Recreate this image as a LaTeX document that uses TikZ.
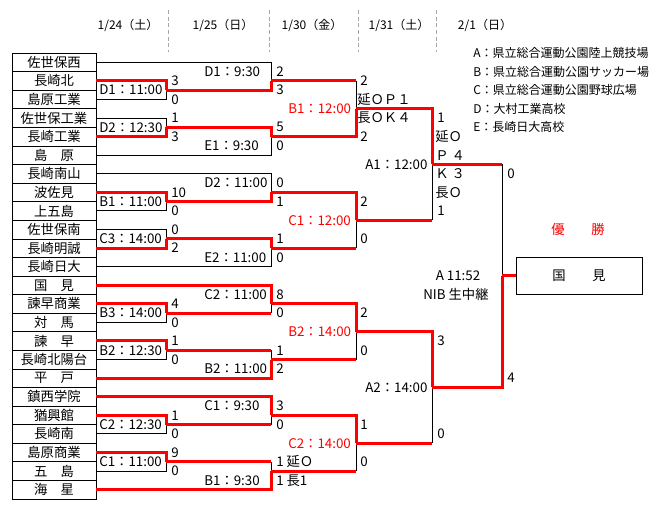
\documentclass[tikz,border=0pt]{standalone}
\usepackage{fontspec}
\setmainfont{Noto Sans CJK JP}
\newcommand\tmfont{\fontsize{10}{12}\selectfont}
\newcommand\lgfont{\fontsize{9}{11}\selectfont}

\begin{document}
\begin{tikzpicture}[x=0.75pt,y=-6.9675pt,
    team/.style={draw,minimum width=63pt,minimum height=13.935pt,inner sep=0pt,font=\tmfont},
    win/.style={red,line width=2.25pt},
    lose/.style={black,line width=0.75pt},
    score/.style={anchor=west,inner sep=0pt,font=\tmfont},
    slot/.style={anchor=west,inner sep=0pt,font=\tmfont},
    venue/.style={slot,text=red},
    day/.style={inner sep=0pt,font=\lgfont},
    sep/.style={gray!70,line width=0.75pt,dash pattern=on 3pt off 2pt}]
  \useasboundingbox (0,-5.705) rectangle (661,49.085);

  % dates
  \node[day] (d1) at (128,-3) {1/24（土）};
  \node[day] (d2) at (223,-3) {1/25（日）};
  \node[day] (d3) at (312,-3) {1/30（金）};
  \node[day] (d4) at (399,-3) {1/31（土）};
  \node[day] (d5) at (485,-3) {2/1（日）};
  \draw[sep] (168,-4.63) -- (168,-0.1); \draw[sep] (269,-4.63) -- (269,-0.1);
  \draw[sep] (358,-4.63) -- (358,-0.1); \draw[sep] (436,-4.63) -- (436,-0.1);

  % venues
  \node[slot,font=\lgfont] (va) at (473,0) {A：県立総合運動公園陸上競技場};
  \node[slot,font=\lgfont] (vb) at (473,2) {B：県立総合運動公園サッカー場};
  \node[slot,font=\lgfont] (vc) at (473,4) {C：県立総合運動公園野球広場};
  \node[slot,font=\lgfont] (vd) at (473,6) {D：大村工業高校};
  \node[slot,font=\lgfont] (ve) at (473,8) {E：長崎日大高校};

  % teams
  \foreach \nm [count=\i] in {佐世保西,長崎北,島原工業,佐世保工業,長崎工業,島　原,
      長崎南山,波佐見,上五島,佐世保南,長崎明誠,長崎日大,国　見,諫早商業,対　馬,
      諫　早,長崎北陽台,平　戸,鎮西学院,猶興館,長崎南,島原商業,五　島,海　星}
    \node[team] (t\i) at (54,{2*\i-1}) {\nm};

  % first and second rounds
  \coordinate (g1a) at (166,4);  \coordinate (g1b) at (271,3);
  \coordinate (g2a) at (166,8);  \coordinate (g2b) at (271,9);
  \coordinate (g3a) at (166,16); \coordinate (g3b) at (271,15);
  \coordinate (g4a) at (166,20); \coordinate (g4b) at (271,21);
  \coordinate (g5a) at (166,28); \coordinate (g5b) at (271,27);
  \coordinate (g6a) at (166,32); \coordinate (g6b) at (271,33);
  \coordinate (g7a) at (166,40); \coordinate (g7b) at (271,39);
  \coordinate (g8a) at (166,44); \coordinate (g8b) at (271,45);

  \draw[lose] (t3.east) -| (g1a);  \draw[win] (t2.east) -| (g1a);
  \draw[lose] (t1.east) -| (g1b);  \draw[win] (g1a) -| (g1b);
  \draw[lose] (t4.east) -| (g2a);  \draw[win] (t5.east) -| (g2a);
  \draw[lose] (t6.east) -| (g2b);  \draw[win] (g2a) -| (g2b);
  \draw[lose] (t9.east) -| (g3a);  \draw[win] (t8.east) -| (g3a);
  \draw[lose] (t7.east) -| (g3b);  \draw[win] (g3a) -| (g3b);
  \draw[lose] (t10.east) -| (g4a); \draw[win] (t11.east) -| (g4a);
  \draw[lose] (t12.east) -| (g4b); \draw[win] (g4a) -| (g4b);
  \draw[lose] (t15.east) -| (g5a); \draw[win] (t14.east) -| (g5a);
  \draw[win] (g5a) -- (g5a -| g5b); \draw[lose] (g5a -| g5b) -- (g5b);
  \draw[win] (t13.east) -| (g5b);
  \draw[lose] (t17.east) -| (g6a); \draw[win] (t16.east) -| (g6a);
  \draw[win] (g6a) -- (g6a -| g6b); \draw[lose] (g6a -| g6b) -- (g6b);
  \draw[win] (t18.east) -| (g6b);
  \draw[lose] (t21.east) -| (g7a); \draw[win] (t20.east) -| (g7a);
  \draw[win] (g7a) -- (g7a -| g7b); \draw[lose] (g7a -| g7b) -- (g7b);
  \draw[win] (t19.east) -| (g7b);
  \draw[lose] (t23.east) -| (g8a); \draw[win] (t22.east) -| (g8a);
  \draw[win] (g8a) -- (g8a -| g8b); \draw[lose] (g8a -| g8b) -- (g8b);
  \draw[win] (t24.east) -| (g8b);

  % quarter finals, semi finals, final
  \coordinate (qb1) at (356,6);  \coordinate (qc1) at (356,18);
  \coordinate (qb2) at (356,30); \coordinate (qc2) at (356,42);
  \coordinate (sa1) at (432,12); \coordinate (sa2) at (432,36);
  \coordinate (fin) at (502,24);
  \node[draw,minimum width=94.5pt,minimum height=27.87pt,font=\tmfont] (champ) at (579,24) {国　　見};

  \draw[win] (g1b) -- (g1b -| qb1); \draw[lose] (g1b -| qb1) -- (qb1);
  \draw[win] (g2b) -| (qb1);
  \draw[win] (g4b) -- (g4b -| qc1); \draw[lose] (g4b -| qc1) -- (qc1);
  \draw[win] (g3b) -| (qc1);
  \draw[win] (g6b) -- (g6b -| qb2); \draw[lose] (g6b -| qb2) -- (qb2);
  \draw[win] (g5b) -| (qb2);
  \draw[win] (g8b) -- (g8b -| qc2); \draw[lose] (g8b -| qc2) -- (qc2);
  \draw[win] (g7b) -| (qc2);
  \draw[win] (qc1) -- (qc1 -| sa1); \draw[lose] (qc1 -| sa1) -- (sa1);
  \draw[win] (qb1) -| (sa1);
  \draw[win] (qc2) -- (qc2 -| sa2); \draw[lose] (qc2 -| sa2) -- (sa2);
  \draw[win] (qb2) -| (sa2);
  \draw[win] (sa1) -- (sa1 -| fin); \draw[lose] (sa1 -| fin) -- (fin);
  \draw[win] (sa2) -| (fin);
  \draw[win] (fin) -- (champ.west);

  % kick-off times
  \node[slot] (s1) at (99,4)  {D1：11:00};  \node[slot] (s2) at (99,8)  {D2：12:30};
  \node[slot] (s3) at (99,16) {B1：11:00};  \node[slot] (s4) at (99,20) {C3：14:00};
  \node[slot] (s5) at (99,28) {B3：14:00};  \node[slot] (s6) at (99,32) {B2：12:30};
  \node[slot] (s7) at (99,40) {C2：12:30};  \node[slot] (s8) at (99,44) {C1：11:00};
  \node[slot] (r1) at (204,2)  {D1：9:30};  \node[slot] (r2) at (204,10) {E1：9:30};
  \node[slot] (r3) at (204,14) {D2：11:00}; \node[slot] (r4) at (204,22) {E2：11:00};
  \node[slot] (r5) at (204,26) {C2：11:00}; \node[slot] (r6) at (204,34) {B2：11:00};
  \node[slot] (r7) at (204,38) {C1：9:30};  \node[slot] (r8) at (204,46) {B1：9:30};
  \node[venue] (q1) at (288,6)  {B1：12:00}; \node[venue] (q2) at (288,18) {C1：12:00};
  \node[venue] (q3) at (288,30) {B2：14:00}; \node[venue] (q4) at (288,42) {C2：14:00};
  \node[slot] (h1) at (365,12) {A1：12:00};  \node[slot] (h2) at (365,36) {A2：14:00};

  % scores
  \node[score] at (171,3) {3};   \node[score] at (171,5) {0};
  \node[score] at (171,7) {1};   \node[score] at (171,9) {3};
  \node[score] at (171,15) {10}; \node[score] at (171,17) {0};
  \node[score] at (171,19) {0};  \node[score] at (171,21) {2};
  \node[score] at (171,27) {4};  \node[score] at (171,29) {0};
  \node[score] at (171,31) {1};  \node[score] at (171,33) {0};
  \node[score] at (171,39) {1};  \node[score] at (171,41) {0};
  \node[score] at (171,43) {9};  \node[score] at (171,45) {0};
  \node[score] at (276,2) {2};   \node[score] at (276,4) {3};
  \node[score] at (276,8) {5};   \node[score] at (276,10) {0};
  \node[score] at (276,14) {0};  \node[score] at (276,16) {1};
  \node[score] at (276,20) {1};  \node[score] at (276,22) {0};
  \node[score] at (276,26) {8};  \node[score] at (276,28) {0};
  \node[score] at (276,32) {1};  \node[score] at (276,34) {2};
  \node[score] at (276,38) {3};  \node[score] at (276,40) {0};
  \node[score] at (276,44) {1 延Ｏ}; \node[score] at (276,46) {1 長1};
  \node[score] at (360,3) {2};   \node[score] at (357,5) {延ＯＰ１};
  \node[score] at (357,7) {長ＯＫ４}; \node[score] at (360,9) {2};
  \node[score] at (360,16) {2};  \node[score] at (360,20) {0};
  \node[score] at (360,28) {2};  \node[score] at (360,32) {0};
  \node[score] at (360,40) {1};  \node[score] at (360,44) {0};
  \node[score] at (437,7) {1};   \node[score] at (435,9) {延Ｏ};
  \node[score] at (435,11) {Ｐ ４}; \node[score] at (435,13) {Ｋ ３};
  \node[score] at (435,15) {長Ｏ}; \node[score] at (437,17) {1};
  \node[score] at (437,31) {3};  \node[score] at (437,41) {0};
  \node[score] at (507,13) {0};  \node[score] at (507,35) {4};

  \node[font=\tmfont] (tv1) at (458,24) {A 11:52};
  \node[font=\tmfont] (tv2) at (456,26) {NIB 生中継};
  \node[font=\tmfont,text=red] (yu) at (578,19) {優　　勝};
\end{tikzpicture}
\end{document}
